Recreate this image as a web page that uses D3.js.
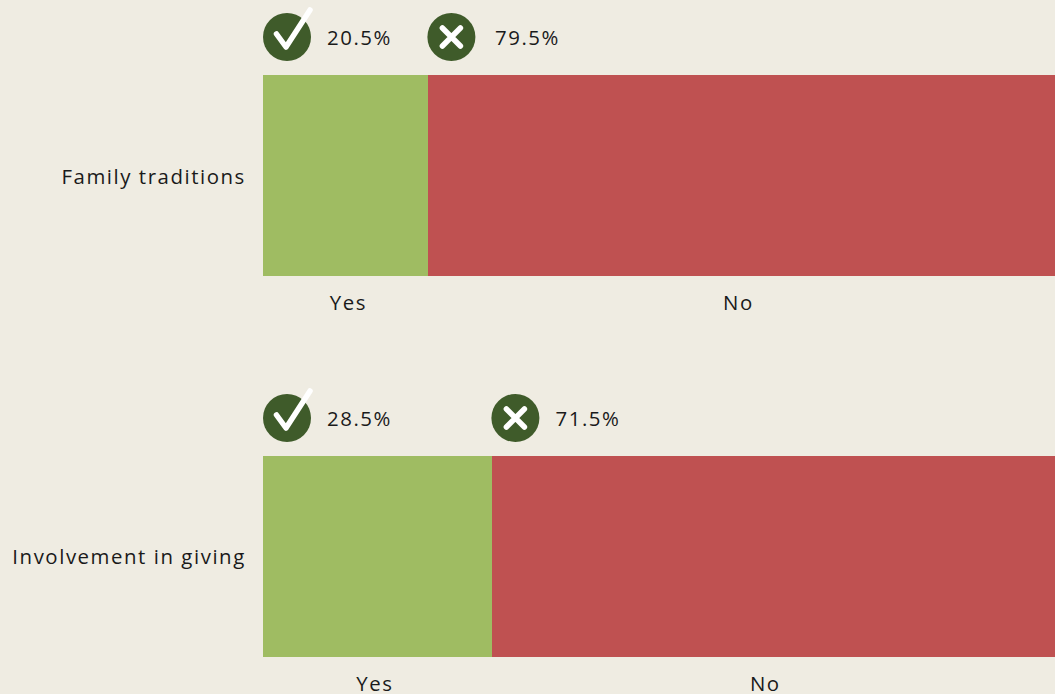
<!DOCTYPE html>
<html><head><meta charset="utf-8">
<script src="https://cdn.jsdelivr.net/npm/d3@7"></script>
<style>
html,body{margin:0;padding:0;background:#efece2;overflow:hidden}
text{font-family:"Open Sans",sans-serif;font-size:20.4px;letter-spacing:1.55px;fill:#1a1a1a}
</style></head><body>
<svg id="c" width="1055" height="694"></svg>
<script>
const categories = ["Family traditions", "Involvement in giving"];
const yesValues = [20.5, 28.5];
const noValues = [79.5, 71.5];
const segmentNames = ["Yes", "No"];
const yesLabelAt = [10.6, 13.9];
const noLabelAt = [59.05, 62.4];
const noTextGap = [67, 63.5];

const svg = d3.select("#c");
const x = d3.scaleLinear().domain([0, 100]).range([263, 1068]);
const rowTop = d3.scaleOrdinal().domain(categories).range([75, 456]);
const catDy = [102, 101];
const barH = 201;

categories.forEach((cat, i) => {
  const top = rowTop(cat);
  const split = Math.round(x(yesValues[i]));
  const g = svg.append("g");
  g.append("rect").attr("x", x(0)).attr("y", top).attr("width", split - x(0)).attr("height", barH).attr("fill", "#9fbc62");
  g.append("rect").attr("x", split).attr("y", top).attr("width", x(yesValues[i] + noValues[i]) - split).attr("height", barH).attr("fill", "#bf5151");

  g.append("text").attr("x", 245.8).attr("y", top + catDy[i]).attr("dy", "0.35em").attr("text-anchor", "end").text(cat);
  g.append("text").attr("x", x(yesLabelAt[i])).attr("y", top + 228).attr("dy", "0.35em").attr("text-anchor", "middle").text(segmentNames[0]);
  g.append("text").attr("x", x(noLabelAt[i])).attr("y", top + 228).attr("dy", "0.35em").attr("text-anchor", "middle").text(segmentNames[1]);

  const cy = top - 38;
  // check badge
  const cx1 = x(0) + 24;
  g.append("circle").attr("cx", cx1).attr("cy", cy).attr("r", 24).attr("fill", "#3f5b2a");
  g.append("path").attr("d", d3.line()([[cx1 - 10.5, cy - 3], [cx1 - 1, cy + 10], [cx1 + 23, cy - 27]]))
    .attr("fill", "none").attr("stroke", "#fff").attr("stroke-width", 5.5).attr("stroke-linecap", "round").attr("stroke-linejoin", "round");
  g.append("text").attr("x", x(0) + 64).attr("y", cy + 1).attr("dy", "0.35em").text(d3.format(".1f")(yesValues[i]) + "%");

  // cross badge
  const cx2 = split + 23.4;
  g.append("circle").attr("cx", cx2).attr("cy", cy).attr("r", 24).attr("fill", "#3f5b2a");
  g.append("path").attr("d", `M${cx2-9},${cy-9}L${cx2+9},${cy+9}M${cx2+9},${cy-9}L${cx2-9},${cy+9}`)
    .attr("fill", "none").attr("stroke", "#fff").attr("stroke-width", 5.5).attr("stroke-linecap", "round");
  g.append("text").attr("x", split + noTextGap[i]).attr("y", cy + 1).attr("dy", "0.35em").text(d3.format(".1f")(noValues[i]) + "%");
});
</script></body></html>
